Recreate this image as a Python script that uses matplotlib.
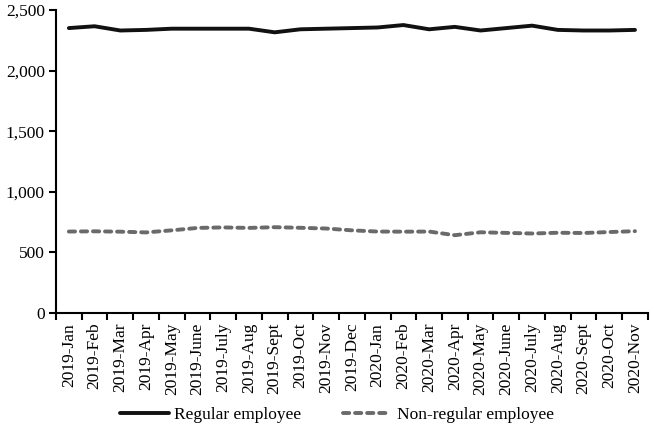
import matplotlib.pyplot as plt
from matplotlib.ticker import FuncFormatter, MultipleLocator
import numpy as np

plt.rcParams['font.family'] = ['Liberation Serif', 'DejaVu Serif']

months = ['2019-Jan', '2019-Feb', '2019-Mar', '2019-Apr', '2019-May', '2019-June',
          '2019-July', '2019-Aug', '2019-Sept', '2019-Oct', '2019-Nov', '2019-Dec',
          '2020-Jan', '2020-Feb', '2020-Mar', '2020-Apr', '2020-May', '2020-June',
          '2020-July', '2020-Aug', '2020-Sept', '2020-Oct', '2020-Nov']
regular = [2350, 2365, 2330, 2335, 2345, 2345, 2345, 2345, 2315, 2340, 2345, 2350,
           2355, 2375, 2340, 2360, 2330, 2350, 2370, 2335, 2330, 2330, 2335]
non_regular = [672, 674, 671, 665, 682, 702, 706, 702, 708, 703, 697, 682,
               672, 671, 672, 642, 666, 661, 656, 662, 660, 668, 675]

fig = plt.figure(figsize=(6.54, 4.3), dpi=100)
ax = fig.add_axes([0.0856, 0.272, 0.905, 0.705])

x = np.arange(len(months))
ax.plot(x, regular, color='#111111', lw=2.8, solid_capstyle='round',
        label='Regular employee')
ax.plot(x, non_regular, color='#6a6a6c', lw=2.8, dashes=(1.6, 1.5),
        dash_capstyle='round', label='Non-regular employee')

ax.set_xlim(-0.5, len(months) - 0.5)
ax.set_ylim(0, 2500)
ax.yaxis.set_major_locator(MultipleLocator(500))
ax.yaxis.set_major_formatter(FuncFormatter(lambda v, p: f'{int(v):,}'))

ax.set_xticks(x)
ax.set_xticklabels(months, rotation=90, fontsize=12.5)
ax.set_xticks(np.arange(-0.5, len(months)), minor=True)
ax.tick_params(axis='x', which='major', length=0, pad=7)
ax.tick_params(axis='x', which='minor', length=5, width=1.5, direction='out')
ax.tick_params(axis='y', length=5, width=1.5, direction='out', labelsize=12.5, pad=3)

for s in ['top', 'right']:
    ax.spines[s].set_visible(False)
for s in ['left', 'bottom']:
    ax.spines[s].set_linewidth(1.5)

fig.legend(loc='lower center', bbox_to_anchor=(0.515, -0.02), ncol=2, frameon=False,
           fontsize=12.5, handlelength=2.8, handletextpad=0.3, columnspacing=2.4)

fig.savefig('out.png', dpi=100)
